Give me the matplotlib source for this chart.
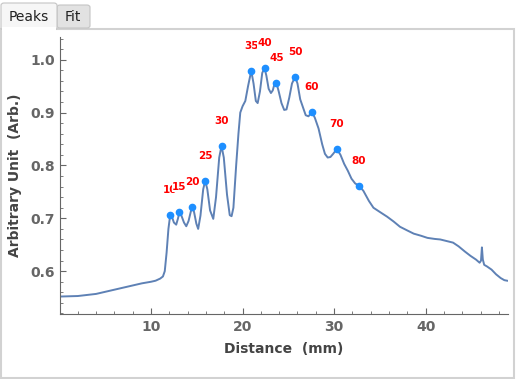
import matplotlib.pyplot as plt
from matplotlib.patches import FancyBboxPatch, Rectangle
from matplotlib.ticker import MultipleLocator

# profile (distance in mm, intensity in arb. units)
dist = [0.0, 2.0, 3.0, 4.0, 5.0, 6.0, 7.0, 8.0, 9.0, 10.0, 10.5, 11.0, 11.3, 11.5, 11.7, 11.9,
        12.1, 12.3, 12.5, 12.75, 12.95, 13.1, 13.3, 13.6, 13.85, 14.1, 14.35, 14.5, 14.7, 14.95,
        15.15, 15.4, 15.7, 15.92, 16.15, 16.45, 16.8, 17.1, 17.45, 17.7, 17.95, 18.3, 18.6, 18.8,
        19.0, 19.3, 19.55, 19.75, 20.0, 20.3, 20.6, 20.95, 21.2, 21.45, 21.65, 21.9, 22.15, 22.4,
        22.6, 22.85, 23.1, 23.3, 23.5, 23.7, 23.95, 24.25, 24.55, 24.8, 25.1, 25.4, 25.75, 26.0,
        26.3, 26.6, 26.9, 27.2, 27.6, 27.9, 28.3, 28.7, 29.0, 29.3, 29.6, 29.9, 30.3, 30.7, 31.1,
        31.5, 31.9, 32.3, 32.7, 33.2, 33.8, 34.3, 35.0, 35.8, 36.5, 37.2, 38.0, 38.7, 39.5, 40.2,
        41.0, 41.6, 42.3, 43.0, 43.6, 44.3, 44.9, 45.5, 45.9, 46.05, 46.15, 46.25, 46.4, 46.7,
        47.2, 47.7, 48.2, 48.6, 48.9]
signal = [0.552, 0.553, 0.555, 0.557, 0.561, 0.565, 0.569, 0.573, 0.577, 0.580, 0.582, 0.586,
          0.590, 0.600, 0.635, 0.680, 0.707, 0.702, 0.692, 0.688, 0.700, 0.712, 0.706, 0.692,
          0.685, 0.695, 0.713, 0.721, 0.712, 0.690, 0.680, 0.705, 0.755, 0.771, 0.755, 0.715,
          0.699, 0.740, 0.815, 0.837, 0.815, 0.745, 0.706, 0.704, 0.720, 0.800, 0.860, 0.900,
          0.912, 0.922, 0.950, 0.979, 0.955, 0.922, 0.918, 0.940, 0.975, 0.984, 0.970, 0.945,
          0.937, 0.942, 0.955, 0.956, 0.940, 0.918, 0.905, 0.906, 0.928, 0.955, 0.968, 0.955,
          0.925, 0.910, 0.895, 0.893, 0.901, 0.890, 0.870, 0.840, 0.822, 0.815, 0.816, 0.822,
          0.831, 0.820, 0.803, 0.790, 0.775, 0.766, 0.762, 0.752, 0.733, 0.720, 0.712, 0.703,
          0.694, 0.684, 0.677, 0.671, 0.667, 0.663, 0.661, 0.660, 0.657, 0.654, 0.647, 0.637,
          0.629, 0.622, 0.616, 0.620, 0.645, 0.622, 0.612, 0.609, 0.603, 0.594, 0.587, 0.583,
          0.582]

peak_x = [12.1, 13.1, 14.5, 15.92, 17.7, 20.95, 22.4, 23.7, 25.75, 27.6, 30.3, 32.7]
peak_y = [0.707, 0.712, 0.721, 0.771, 0.837, 0.979, 0.984, 0.956, 0.968, 0.901, 0.831, 0.762]
peak_labels = ["10", "15", "20", "25", "30", "35", "40", "45", "50", "60", "70", "80"]

fig = plt.figure(figsize=(5.16, 3.79), dpi=100)

# tab panel decoration
W, H = 516, 379
def fx(px): return px / W
def fy(py): return 1 - py / H
fig.patches.append(Rectangle((fx(1), fy(378)), fx(513), fy(29) - fy(378), transform=fig.transFigure,
                             facecolor='white', edgecolor='#d2d2d2', lw=1.5, zorder=0))
fig.patches.append(FancyBboxPatch((fx(57), fy(28)), fx(33), fy(5) - fy(28),
                                  boxstyle='round,pad=0,rounding_size=0.006', transform=fig.transFigure,
                                  facecolor='#e2e2e2', edgecolor='#c4c4c4', lw=0.8, zorder=1))
fig.patches.append(FancyBboxPatch((fx(1), fy(30)), fx(56), fy(3) - fy(30),
                                  boxstyle='round,pad=0,rounding_size=0.006', transform=fig.transFigure,
                                  facecolor='#f6f6f6', edgecolor='#c4c4c4', lw=0.8, zorder=2))
fig.patches.append(Rectangle((fx(2), fy(31)), fx(54), fy(27) - fy(31), transform=fig.transFigure,
                             facecolor='white', edgecolor='none', zorder=3))
fig.text(fx(29), fy(17), 'Peaks', ha='center', va='center', fontsize=10, color='#222222', zorder=4)
fig.text(fx(73), fy(17), 'Fit', ha='center', va='center', fontsize=10, color='#222222', zorder=4)

ax = fig.add_axes([fx(59.5), fy(314), fx(508) - fx(59.5), fy(37) - fy(314)])
ax.set_zorder(5)
ax.patch.set_alpha(0)

ax.plot(dist, signal, color='#5E81B5', lw=1.4)
ax.plot(peak_x, peak_y, 'o', color='#1E8FFF', ms=4.5, zorder=3)
for px, py, lab in zip(peak_x, peak_y, peak_labels):
    ax.annotate(lab, (px, py), xytext=(0, 18), textcoords='offset points', ha='center', va='center',
                color='red', fontsize=7.5, fontweight='bold',
                bbox=dict(boxstyle='square,pad=0', facecolor='white', edgecolor='none'))

ax.set_xlim(0, 49)
ax.set_ylim(0.519, 1.043)
ax.xaxis.set_major_locator(MultipleLocator(10))
ax.xaxis.set_minor_locator(MultipleLocator(2))
ax.yaxis.set_major_locator(MultipleLocator(0.1))
ax.yaxis.set_minor_locator(MultipleLocator(0.02))
ax.set_xticks([10, 20, 30, 40])
ax.set_yticks([0.6, 0.7, 0.8, 0.9, 1.0])

for s in ['top', 'right']:
    ax.spines[s].set_visible(False)
for s in ['left', 'bottom']:
    ax.spines[s].set_color('#666666')
ax.tick_params(which='both', direction='in', color='#666666', labelcolor='#666666', labelsize=10)
ax.tick_params(which='major', length=4)
ax.tick_params(which='minor', length=2.5)
ax.tick_params(axis='x', pad=4)
ax.tick_params(axis='y', pad=3)
for t in ax.get_xticklabels() + ax.get_yticklabels():
    t.set_fontweight('bold')

ax.set_xlabel('Distance  (mm)', fontsize=10, fontweight='bold', color='#444444', labelpad=6)
ax.set_ylabel('Arbitrary Unit  (Arb.)', fontsize=10, fontweight='bold', color='#444444', labelpad=6)

fig.savefig('out.png', dpi=100)
